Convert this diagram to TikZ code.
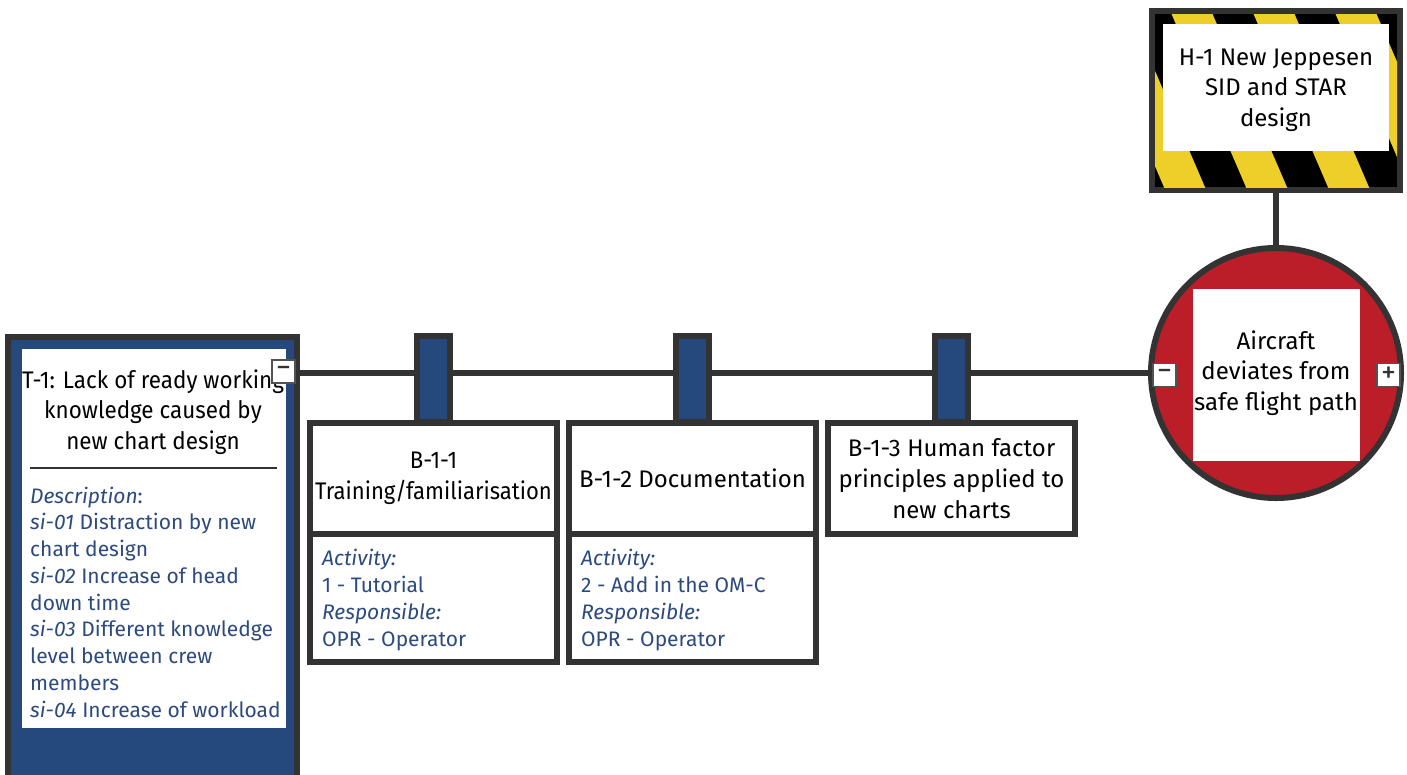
\documentclass[tikz,border=0pt]{standalone}
\usepackage{fontspec}
\setmainfont{Fira Sans}
\newfontfamily\narrowtitle[FakeStretch=0.935]{Fira Sans}
\newfontfamily\narrowertitle[FakeStretch=0.92]{Fira Sans}
\usetikzlibrary{calc}
\definecolor{linegray}{HTML}{333333}
\definecolor{barrierblue}{RGB}{38,73,125}
\definecolor{textblue}{RGB}{44,74,128}
\definecolor{eventred}{RGB}{187,30,40}
\definecolor{hazardyellow}{RGB}{238,206,40}

\begin{document}
\begin{tikzpicture}[x=1pt,y=-1pt,
  heavy/.style={draw=linegray, line width=6pt, inner sep=0pt, outer sep=0pt},
  conn/.style={draw=linegray, line width=6pt},
  panel/.style={heavy, fill=white, anchor=north west},
  tab/.style={heavy, fill=barrierblue, minimum width=33pt, minimum height=86pt, anchor=north},
  blank/.style={fill=white, inner sep=0pt, outer sep=0pt},
  title/.style={align=center, font=\fontsize{24}{30.7}\selectfont, text=black, inner sep=0pt},
  detail/.style={align=left, font=\fontsize{21}{26.75}\selectfont, text=textblue, inner sep=0pt},
  toggle/.style={draw=linegray!85, line width=1.5pt, fill=white, minimum size=23pt, inner sep=0pt, text=linegray, font=\fontsize{30}{30}\selectfont},
]
\useasboundingbox (0,0) rectangle (1407,774);

% threat
\node[heavy, fill=barrierblue, minimum width=289pt, minimum height=450pt, anchor=north west] (threat) at (8,337) {};
\node[blank, minimum width=264pt, minimum height=379pt, anchor=north west] (threatcard) at (22,349) {};
\node[title, font=\fontsize{24}{30.7}\narrowtitle] (threattitle) at (153,412) {T-1: Lack of ready working\\knowledge caused by\\new chart design};
\draw[linegray, line width=1.5pt] (30,468) -- (277,468);
\node[detail, anchor=west] (threatdesc) at (30,602) {\textit{Description}:\\
\textit{si-01} Distraction by new\\
chart design\\
\textit{si-02} Increase of head\\
down time\\
\textit{si-03} Different knowledge\\
level between crew\\
members\\
\textit{si-04} Increase of workload};

% top event
\node[heavy, circle, fill=eventred, minimum size=250pt] (event) at (1276,373) {};
\node[blank, minimum width=167pt, minimum height=172pt] (eventcard) at (1276,375) {};
\node[title] (eventtitle) at (1276,373) {Aircraft\\deviates from\\safe flight path};

% hazard
\node[heavy, fill=black, minimum width=248pt, minimum height=179pt] (hazard) at (1276,100.5) {};
\begin{scope}
  \clip ($(hazard.north west)+(3,3)$) rectangle ($(hazard.south east)+(-3,-3)$);
  \foreach \k in {-3,...,3}
    \fill[hazardyellow] ({1165.5+82*\k},0) -- ++(41,0) -- ++(86,200) -- ++(-41,0) -- cycle;
\end{scope}
\node[blank, minimum width=226pt, minimum height=127pt] (hazardcard) at (1276,87.5) {};
\node[title] (hazardtitle) at (1276,90) {H-1 New Jeppesen\\SID and STAR\\design};

% connectors
\draw[conn] (hazard.south) -- (event.north);
\draw[conn] (threat.east |- event.center) -- (event.west);

% barriers
\node[tab] (tab1) at (433.5,336) {};
\node[tab] (tab2) at (692.5,336) {};
\node[tab] (tab3) at (951.5,336) {};

\node[panel, minimum width=247pt, minimum height=111pt] (b1) at (310,423) {};
\node[panel, minimum width=247pt, minimum height=128pt] (b1act) at (310,534) {};
\node[title, font=\fontsize{24}{30.7}\narrowertitle] at (b1) {B-1-1\\Training/familiarisation};
\node[detail, anchor=west] at ($(b1act.west)+(12,2)$) {\textit{Activity:}\\1 - Tutorial\\\textit{Responsible:}\\OPR - Operator};

\node[panel, minimum width=247pt, minimum height=111pt] (b2) at (569,423) {};
\node[panel, minimum width=247pt, minimum height=128pt] (b2act) at (569,534) {};
\node[title] at (b2) {B-1-2 Documentation};
\node[detail, anchor=west] at ($(b2act.west)+(12,2)$) {\textit{Activity:}\\2 - Add in the OM-C\\\textit{Responsible:}\\OPR - Operator};

\node[panel, minimum width=247pt, minimum height=111pt] (b3) at (828,423) {};
\node[title] at (b3) {B-1-3 Human factor\\principles applied to\\new charts};

% collapse / expand toggles
\node[toggle] (threattoggle) at (283.5,371.5) {−};
\node[toggle] (eventleft) at (1164.5,375) {−};
\node[toggle] (eventright) at (1388.5,375) {+};
\end{tikzpicture}
\end{document}
